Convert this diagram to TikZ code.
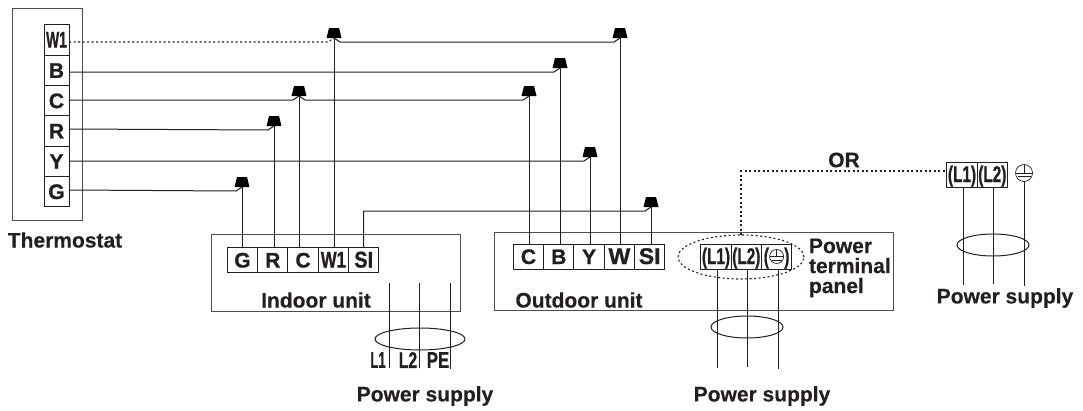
\documentclass[tikz,border=0pt]{standalone}
\usepackage{fontspec}
\setmainfont[BoldFeatures={FakeBold=.4}]{Liberation Sans}
\newfontfamily\termfont[BoldFeatures={FakeBold=1.1}]{Liberation Sans}
\usetikzlibrary{positioning,shapes.geometric}
\definecolor{ink}{HTML}{231F20}
\newcommand{\squeezed}[2]{\scalebox{#1}[1.08]{#2}}

\begin{document}
\begin{tikzpicture}[x=1pt,y=-1pt,line width=1pt,draw=ink,text=ink,
  every node/.style={font=\fontsize{21}{20}\selectfont\bfseries,inner sep=0pt,outer sep=0pt},
  term node/.style={rectangle,draw,font=\fontsize{21}{20}\termfont\bfseries,minimum width=30.3pt,minimum height=24.5pt,text height=15pt,text depth=0pt,align=center},
  stat node/.style={term node,minimum width=25pt,minimum height=30.3pt},
  unit node/.style={rectangle,draw=ink!80,minimum width=#1},
  plug node/.style={trapezium,trapezium left angle=76,trapezium right angle=76,fill=black,draw=none,text width=10pt,text height=10pt,text depth=0pt},
  tie node/.style={ellipse,draw,minimum width=72pt,minimum height=22pt},
  earth node/.style={circle,draw,line width=.7pt,minimum size=#1,path picture={
    \draw[line width=.7pt] (path picture bounding box.west) -- (path picture bounding box.east);
    \draw[line width=.7pt] ([yshift=-3.5pt,xshift=2pt]path picture bounding box.west) -- ([yshift=-3.5pt,xshift=-2pt]path picture bounding box.east);
    \draw[line width=.7pt] (path picture bounding box.north) -- (path picture bounding box.center);}},
  dot wire/.style={dash pattern=on 2pt off 2.5pt,line width=1.1pt}]

  \useasboundingbox (0,0) rectangle (1083,410);

  \node[unit node=70pt,minimum height=212pt] (thermostat) at (47,114) {};
  \node[stat node] (tW) at (56.5,40) {\squeezed{.66}{W1}};
  \node[stat node] (tB) [below=0pt of tW] {B};
  \node[stat node] (tC) [below=0pt of tB] {C};
  \node[stat node] (tR) [below=0pt of tC] {R};
  \node[stat node] (tY) [below=0pt of tR] {Y};
  \node[stat node] (tG) [below=0pt of tY] {G};
  \node (thermostatText) at (65,240) {Thermostat};

  \node[unit node=249pt,minimum height=77pt] (indoor) at (335.5,272.5) {};
  \node[term node] (iG) at (242.5,260) {G};
  \node[term node] (iR) [right=0pt of iG] {R};
  \node[term node] (iC) [right=0pt of iR] {C};
  \node[term node] (iW) [right=0pt of iC] {\squeezed{.8}{W1}};
  \node[term node] (iS) [right=0pt of iW] {\squeezed{.95}{SI}};
  \node (indoorText) at (316,300) {Indoor unit};

  \node[unit node=399pt,minimum height=78pt] (outdoor) at (693.5,271) {};
  \node[term node,minimum height=25pt] (oC) at (528.5,256.5) {C};
  \node[term node,minimum height=25pt] (oB) [right=0pt of oC] {B};
  \node[term node,minimum height=25pt] (oY) [right=0pt of oB] {Y};
  \node[term node,minimum height=25pt] (oW) [right=0pt of oY] {\squeezed{1.1}{W}};
  \node[term node,minimum height=25pt] (oS) [right=0pt of oW] {\squeezed{1.1}{SI}};
  \node (outdoorText) at (579,300) {Outdoor unit};

  \node[term node,minimum height=25pt] (pL) at (716,256.5) {\squeezed{.73}{(L1)}};
  \node[term node,minimum height=25pt] (pN) [right=0pt of pL] {\squeezed{.73}{(L2)}};
  \node[term node,minimum height=25pt] (pE) [right=0pt of pN] {\squeezed{.73}{(\hspace{21pt})}};
  \node[earth node=14pt] (pEarth) at (pE.center) {};
  \node[ellipse,draw,dot wire,minimum width=126pt,minimum height=44pt] (panel) at (741,257) {};
  \node[anchor=west,align=left] (panelText) at (809,268) {Power\\terminal\\panel};

  \node[term node,minimum height=25pt] (rL) at (962,174.5) {\squeezed{.73}{(L1)}};
  \node[term node,minimum height=25pt] (rN) [right=0pt of rL] {\squeezed{.73}{(L2)}};
  \node[earth node=17pt] (rEarth) at (1024,173) {};
  \node (orText) at (844,160) {OR};

  \node[plug node] (cG) at (242,182) {};
  \node[plug node] (cR) at (274,121) {};
  \node[plug node] (cC) at (299,91) {};
  \node[plug node] (cW) at (334,33) {};
  \node[plug node] (cC2) at (529,91) {};
  \node[plug node] (cB) at (560,63) {};
  \node[plug node] (cY) at (590,152) {};
  \node[plug node] (cW2) at (620,33) {};
  \node[plug node] (cS) at (651,202) {};

  \draw[dot wire] (tW.east |- 0,42) -- ([xshift=-6pt,yshift=-4pt]cW.south) -- (cW.south);
  \draw (cB.south) -- ++(-6,4) -- (tB.east |- 0,72);
  \draw (cC.south) -- ++(-6,4) -- (tC.east |- 0,100);
  \draw (cR.south) -- ++(-6,4) -- (tR.east |- 0,129);
  \draw (cY.south) -- ++(-6,4) -- (tY.east |- 0,161);
  \draw (cG.south) -- ++(-6,4) -- (tG.east |- 0,190);
  \draw (cW.south) -- ++(6,4) -- ([xshift=-6pt,yshift=-4pt]cW2.south) -- (cW2.south);
  \draw (cC.south) -- ++(6,4) -- ([xshift=-6pt,yshift=-4pt]cC2.south) -- (cC2.south);
  \draw (iS.north) |- ([xshift=-6pt,yshift=-4pt]cS.south) -- (cS.south);

  \draw (cG.south) -- (cG.south |- iG.north);
  \draw (cR.south) -- (cR.south |- iR.north);
  \draw (cC.south) -- (cC.south |- iC.north);
  \draw (cW.south) -- (cW.south |- iW.north);
  \draw (cC2.south) -- (cC2.south |- oC.north);
  \draw (cB.south) -- (cB.south |- oB.north);
  \draw (cY.south) -- (cY.south |- oY.north);
  \draw (cW2.south) -- (cW2.south |- oW.north);
  \draw (cS.south) -- (cS.south |- oS.north);

  \draw[dot wire] (panel.north) |- ([yshift=3.5pt]rL.west);

  \coordinate (iL) at (389,283);
  \coordinate (iN) at (419,283);
  \coordinate (iP) at (450,283);
  \coordinate (iLend) at (389,368);
  \coordinate (iNend) at (419,368);
  \coordinate (iPend) at (450,369);
  \draw (iL) -- (iLend);
  \draw (iN) -- (iNend);
  \draw (iP) -- (iPend);
  \node[tie node,minimum width=90pt] (iTie) at (420,339) {};
  \node[font=\fontsize{21}{20}\termfont\bfseries] (iLText) at (378,360) {\squeezed{.62}{L1}};
  \node[font=\fontsize{21}{20}\termfont\bfseries] (iNText) at (408,360) {\squeezed{.75}{L2}};
  \node[font=\fontsize{21}{20}\termfont\bfseries] (iPText) at (438,360) {\squeezed{.8}{PE}};
  \node (iSupply) at (425,396) {Power supply};

  \coordinate (pLend) at (717,368);
  \coordinate (pNend) at (747,367);
  \coordinate (pEend) at (778,369);
  \draw (pLend |- pL.south) -- (pLend);
  \draw (pNend |- pN.south) -- (pNend);
  \draw (pEend |- pE.south) -- (pEend);
  \node[tie node] (pTie) at (747,327) {};
  \node (pSupply) at (762,396) {Power supply};

  \coordinate (rLend) at (963,285);
  \coordinate (rNend) at (993,284);
  \coordinate (rEend) at (1024,286);
  \draw (rLend |- rL.south) -- (rLend);
  \draw (rNend |- rN.south) -- (rNend);
  \draw (rEarth.south) -- (rEend);
  \node[tie node] (rTie) at (993,245) {};
  \node (rSupply) at (1005,298) {Power supply};
\end{tikzpicture}
\end{document}
